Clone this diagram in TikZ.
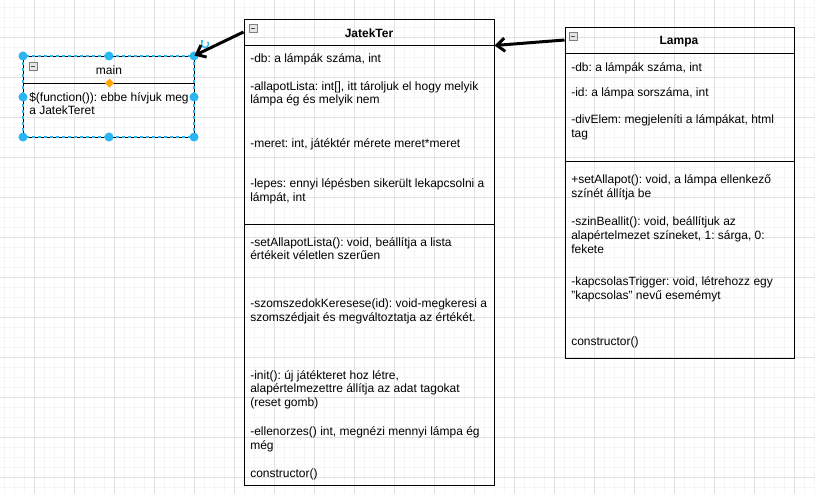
\documentclass[tikz,border=0pt]{standalone}
\usepackage{fontspec}
\setmainfont{Liberation Sans}
\usetikzlibrary{arrows.meta,fit}
\definecolor{gmaj}{HTML}{E2E2E2}
\definecolor{gmin}{HTML}{F5F5F5}
\definecolor{selc}{HTML}{29B6F2}
\definecolor{handc}{HTML}{FFA500}
\newcommand\txtline[4]{\node[txt] (#1) at (#2,#3) {#4};}
\frenchspacing
\begin{document}
\begin{tikzpicture}[x=0.75pt,y=-0.75pt,
  txt/.style={anchor=base west,inner sep=0pt,font=\fontsize{9}{10}\selectfont},
  ttl/.style={anchor=base,inner sep=0pt,font=\fontsize{9}{10}\selectfont\bfseries},
  box/.style={draw=black,line width=0.75pt,inner sep=0pt},
  conn/.style={line width=2.25pt,-{Straight Barb[length=6pt,width=10pt,line width=2.2pt]}},
  minusbox/.style={draw=gray,fill=gray!20,line width=0.6pt},
  handle/.style={fill=selc}]
\useasboundingbox (0,0) rectangle (815,494);
\fill[white] (0,0) rectangle (815,494);
% grid
\foreach \x in {4,14,...,814} \draw[gmin,line width=0.75pt] (\x,0) -- (\x,494);
\foreach \y in {7,17,...,494} \draw[gmin,line width=0.75pt] (0,\y) -- (815,\y);
\foreach \x in {34,74,...,814} \draw[gmaj,line width=0.75pt] (\x,0) -- (\x,494);
\foreach \y in {37,77,...,494} \draw[gmaj,line width=0.75pt] (0,\y) -- (815,\y);

% ---------- main ----------
\node[box,fit={(23,56)(194,137)}] (mn) {};
\node[box,fit={(23,56)(194,83)}] (mnhead) {};
\draw[selc,line width=0.9pt,dash pattern=on 2.25pt off 2.25pt] (23,56) rectangle (194,137);
\draw[minusbox] (29,62) rectangle (37,70);
\draw[black!70,line width=0.6pt] (31,66) -- (35,66);
\node[anchor=base,inner sep=0pt,font=\fontsize{9}{10}\selectfont] (mntitle) at (109,74) {main};
\txtline{m1}{29}{101}{\$(function()): ebbe hívjuk meg}
\txtline{m2}{29}{114}{a JatekTeret}
\fill[handc] (105,83) -- (109.5,78.5) -- (114,83) -- (109.5,87.5) -- cycle;
\foreach \p in {(23,56),(109,56),(194,56),(23,97),(194,97),(23,137),(109,137),(194,137)}
  \fill[handle] \p circle[radius=3.4pt];
\draw[selc,line width=1pt,-{Latex[length=2pt,width=2.8pt]}] (205,44) ++(40:2.7pt) arc[start angle=40,end angle=-250,radius=2.7pt];

% ---------- JatekTer ----------
\node[box,fit={(244,19)(494,485)}] (jt) {};
\node[box,fit={(244,19)(494,45)}] (jthead) {};
\draw[line width=0.75pt] (244,224) -- (494,224);
\draw[minusbox] (249,24) rectangle (257,32);
\draw[black!70,line width=0.6pt] (251,28) -- (255,28);
\node[ttl] (jttitle) at (369,37) {JatekTer};
\txtline{j1}{250}{62}{-db: a lámpák száma, int}
\txtline{j2}{250}{90}{-allapotLista: int[], itt tároljuk el hogy melyik}
\txtline{j3}{250}{103}{lámpa ég és melyik nem}
\txtline{j4}{250}{147}{-meret: int, játéktér mérete meret*meret}
\txtline{j5}{250}{187}{-lepes: ennyi lépésben sikerült lekapcsolni a}
\txtline{j6}{250}{201}{lámpát, int}
\txtline{j7}{250}{246}{-setAllapotLista(): void, beállítja a lista}
\txtline{j8}{250}{259}{értékeit véletlen szerűen}
\txtline{j9}{250}{307}{-szomszedokKeresese(id): void-megkeresi a}
\txtline{j10}{250}{321}{szomszédjait és megváltoztatja az értékét.}
\txtline{j11}{250}{379}{-init(): új játékteret hoz létre,}
\txtline{j12}{250}{392}{alapértelmezettre állítja az adat tagokat}
\txtline{j13}{250}{406}{(reset gomb)}
\txtline{j14}{250}{435}{-ellenorzes() int, megnézi mennyi lámpa ég}
\txtline{j15}{250}{449}{még}
\txtline{j16}{250}{477}{constructor()}

% ---------- Lampa ----------
\node[box,fit={(565,27)(794,358)}] (lp) {};
\node[box,fit={(565,27)(794,53)}] (lphead) {};
\draw[line width=0.75pt] (565,161) -- (794,161);
\draw[minusbox] (569,32) rectangle (577,40);
\draw[black!70,line width=0.6pt] (571,36) -- (575,36);
\node[ttl] (lptitle) at (679,44) {Lampa};
\txtline{l1}{571}{71}{-db: a lámpák száma, int}
\txtline{l2}{571}{96}{-id: a lámpa sorszáma, int}
\txtline{l3}{571}{123}{-divElem: megjeleníti a lámpákat, html}
\txtline{l4}{571}{137}{tag}
\txtline{l5}{571}{183}{+setAllapot(): void, a lámpa ellenkező}
\txtline{l6}{571}{197}{színét állítja be}
\txtline{l7}{571}{225}{-szinBeallit(): void, beállítjuk az}
\txtline{l8}{571}{239}{alapértelmezet színeket, 1: sárga, 0:}
\txtline{l9}{571}{253}{fekete}
\txtline{l10}{571}{285}{-kapcsolasTrigger: void, létrehozz egy}
\txtline{l11}{571}{299}{"kapcsolas" nevű esemémyt}
\txtline{l12}{571}{345}{constructor()}

% ---------- connectors ----------
\draw[conn] (lphead.west) -- (jthead.south east);
\draw[conn] (jthead.west) -- (mnhead.north east);
\end{tikzpicture}
\end{document}
